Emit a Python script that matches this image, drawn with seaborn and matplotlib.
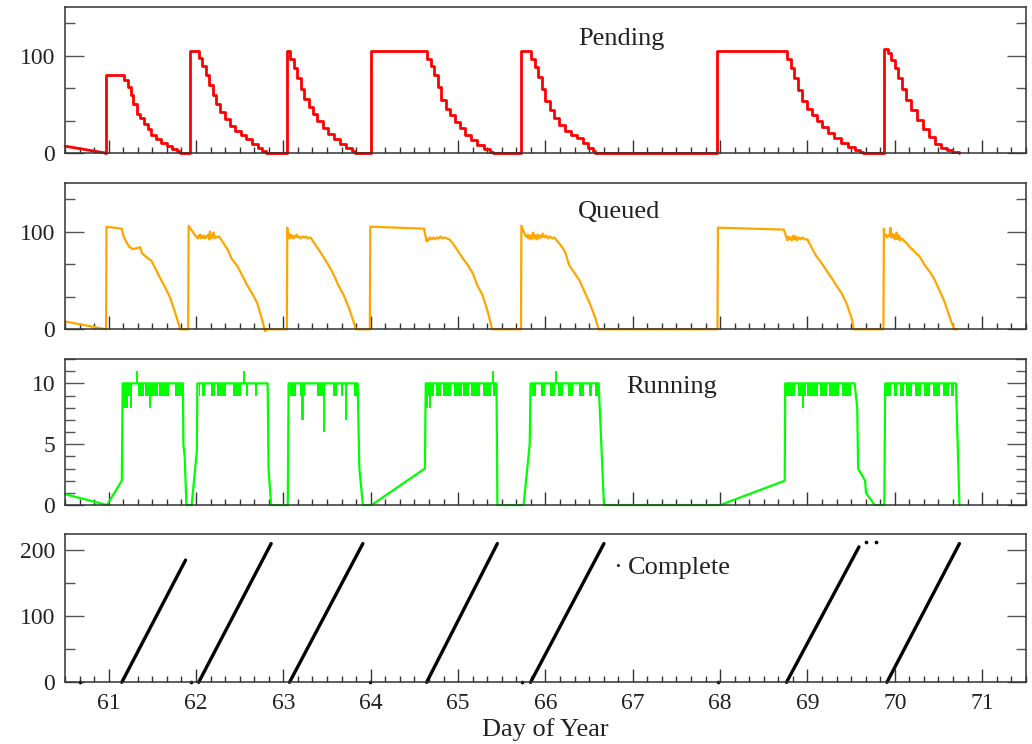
import matplotlib
matplotlib.use("Agg")
import matplotlib.pyplot as plt
from matplotlib.ticker import MultipleLocator, AutoMinorLocator
import pandas as pd
import seaborn as sns

# ---------------------------------------------------------------- data
# Pending jobs (held until the next sample -> step drawing)
pending_lead_days = [60.5, 60.96]
pending_lead_vals = [7, 0]
pending_days = [
    60.96, 60.97, 61.18, 61.22, 61.25, 61.28, 61.32, 61.36, 61.41, 61.45, 61.49, 61.54, 61.60, 61.67, 61.73, 61.78, 61.82,
    61.93, 62.03, 62.07, 62.11, 62.15, 62.19, 62.23, 62.28, 62.33, 62.39, 62.45, 62.51, 62.57, 62.64, 62.71, 62.76, 62.80,
    63.04, 63.08, 63.12, 63.16, 63.20, 63.24, 63.29, 63.34, 63.39, 63.45, 63.51, 63.58, 63.65, 63.72, 63.78, 63.82,
    64.00, 64.65, 64.69, 64.73, 64.77, 64.81, 64.86, 64.91, 64.96, 65.02, 65.08, 65.15, 65.22, 65.30, 65.36, 65.40,
    65.72, 65.84, 65.88, 65.92, 65.96, 66.00, 66.05, 66.10, 66.16, 66.22, 66.29, 66.36, 66.43, 66.49, 66.54, 66.57,
    67.97, 68.77, 68.81, 68.85, 68.89, 68.94, 68.99, 69.05, 69.11, 69.17, 69.23, 69.30, 69.38, 69.46, 69.54, 69.60, 69.64,
    69.88, 69.92, 69.96, 70.00, 70.04, 70.08, 70.13, 70.19, 70.25, 70.32, 70.39, 70.46, 70.53, 70.60, 70.66, 70.74,
]
pending_vals = [
    0, 80, 75, 68, 60, 50, 40, 36, 30, 25, 19, 14, 10, 7, 4, 2, 0,
    105, 98, 90, 80, 70, 60, 50, 42, 35, 28, 23, 18, 14, 9, 5, 2, 0,
    105, 97, 87, 77, 66, 56, 47, 40, 33, 26, 20, 14, 9, 5, 2, 0,
    105, 97, 90, 80, 68, 55, 45, 39, 32, 26, 19, 13, 8, 4, 1, 0,
    105, 97, 89, 78, 66, 54, 44, 36, 29, 23, 19, 15, 10, 5, 2, 0,
    105, 97, 88, 77, 65, 53, 45, 39, 33, 27, 21, 15, 10, 6, 3, 1, 0,
    107, 103, 96, 87, 77, 66, 55, 44, 34, 25, 16, 9, 5, 3, 1, 0,
]

# Queued jobs
queued_days = [
    60.5, 60.97, 60.975, 61.15, 61.17, 61.21, 61.24, 61.28, 61.32, 61.36, 61.38, 61.43, 61.49, 61.53, 61.58, 61.64,
    61.70, 61.75, 61.81, 61.82, 61.91,
    61.915, 61.96, 62.00, 62.02, 62.03, 62.04, 62.05, 62.06, 62.07, 62.08, 62.09, 62.10, 62.11, 62.12, 62.14, 62.15,
    62.16, 62.17, 62.18, 62.19, 62.20, 62.21, 62.22, 62.24, 62.26, 62.28, 62.30, 62.36, 62.41,
    62.47, 62.53, 62.58, 62.64, 62.70, 62.75, 62.79, 62.81, 63.04,
    63.045, 63.05, 63.06, 63.07, 63.08, 63.09, 63.10, 63.11, 63.12, 63.13, 63.15, 63.16, 63.18, 63.20, 63.22, 63.24,
    63.26, 63.28, 63.31, 63.34, 63.40, 63.46, 63.52, 63.58, 63.63, 63.69, 63.75, 63.81, 63.83, 63.99,
    63.995, 64.61, 64.64, 64.65, 64.66, 64.68, 64.70, 64.72, 64.74, 64.76, 64.78, 64.80, 64.82, 64.84, 64.87, 64.90,
    64.94, 65.00, 65.05, 65.11, 65.17, 65.22, 65.28, 65.34, 65.39, 65.72,
    65.725, 65.77, 65.79, 65.80, 65.81, 65.83, 65.84, 65.86, 65.87, 65.88, 65.90, 65.91, 65.93, 65.94, 65.96, 65.97,
    65.99, 66.01, 66.03, 66.05, 66.08, 66.10, 66.14, 66.20, 66.23, 66.27, 66.33, 66.39, 66.45, 66.51, 66.57, 66.61,
    67.97,
    67.975, 68.73, 68.76, 68.77, 68.78, 68.79, 68.81, 68.82, 68.84, 68.85, 68.87, 68.88, 68.90, 68.92, 68.94, 68.97,
    69.00, 69.04, 69.10, 69.16, 69.22, 69.28, 69.33, 69.39, 69.45, 69.51, 69.53, 69.87,
    69.875, 69.88, 69.90, 69.91, 69.93, 69.94, 69.95, 69.96, 69.97, 69.99, 70.00, 70.01, 70.02, 70.04, 70.05, 70.06,
    70.08, 70.11, 70.14, 70.17, 70.20, 70.24, 70.28, 70.34, 70.39, 70.45, 70.51, 70.57, 70.63, 70.68, 70.72,
]
queued_vals = [
    8, 0, 105, 103, 95, 88, 84, 82, 83, 84, 78, 74, 70, 63, 54, 44,
    33, 20, 3, 0, 0,
    106, 100, 95, 93, 96, 94, 97, 93, 95, 94, 96, 93, 95, 94, 97, 92,
    100, 93, 96, 94, 99, 93, 95, 94, 95, 93, 90, 82, 72,
    65, 55, 46, 37, 27, 12, -2, 0, 0,
    104, 95, 98, 93, 97, 94, 96, 93, 95, 94, 97, 94, 95, 93, 95, 94,
    95, 93, 94, 90, 82, 74, 65, 55, 45, 35, 22, 6, 0, 0,
    105, 103, 90, 93, 91, 94, 92, 94, 92, 94, 93, 95, 93, 94, 93, 92,
    88, 80, 73, 66, 57, 45, 35, 18, 0, 0,
    106, 96, 94, 97, 93, 96, 92, 99, 93, 96, 92, 97, 93, 96, 94, 98,
    94, 96, 93, 95, 93, 94, 90, 83, 78, 66, 58, 50, 38, 26, 12, 0,
    0,
    104, 102, 94, 91, 95, 92, 94, 91, 96, 92, 95, 91, 94, 92, 94, 92,
    92, 85, 75, 68, 60, 52, 45, 37, 26, 10, 0, 0,
    103, 95, 97, 94, 96, 95, 104, 94, 98, 93, 97, 92, 99, 92, 96, 91,
    93, 90, 88, 84, 82, 78, 75, 66, 60, 52, 40, 28, 12, 0, 0,
]

# Running jobs: outline of each busy period
running_days = [
    60.5, 60.98, 61.15, 61.16, 61.85, 61.855, 61.87, 61.89, 61.95, 62.01, 62.015, 62.82, 62.83, 62.86,
    63.05, 63.06, 63.85, 63.87, 63.91, 64.01, 64.62, 64.63, 65.44, 65.45, 65.75, 65.82, 65.83, 66.61, 66.67,
    68.00, 68.74, 68.745, 69.54, 69.57, 69.58, 69.66, 69.67, 69.77, 69.88, 69.89, 70.70, 70.74,
]
running_vals = [
    0.9, 0, 2, 10, 10, 5, 4, 0, 0, 4.5, 10, 10, 3, 0,
    0, 10, 10, 3, 0, 0, 3, 10, 10, 0, 0, 5, 10, 10, 0,
    0, 2, 10, 10, 8, 3, 2, 1, 0, 0, 10, 10, 0,
]
# stretches where the count flickers between 9 and 10
running_flicker_start = [
    61.16, 61.34, 61.42, 61.48, 61.58, 61.76,
    62.03, 62.07, 62.17, 62.24, 62.42, 62.57, 62.68,
    63.08, 63.19, 63.39, 63.57, 63.66, 63.81,
    64.64, 64.75, 64.83, 64.95, 65.06, 65.15, 65.28, 65.40,
    65.85, 65.95, 66.05, 66.14, 66.26, 66.38, 66.50, 66.57,
    68.74, 68.89, 69.00, 69.14, 69.25, 69.40,
    69.90, 69.99, 70.06, 70.13, 70.23, 70.33, 70.44, 70.55, 70.64,
]
running_flicker_end = [
    61.27, 61.40, 61.46, 61.56, 61.69, 61.85,
    62.04, 62.10, 62.22, 62.34, 62.51, 62.60, 62.70,
    63.15, 63.25, 63.45, 63.61, 63.68, 63.85,
    64.72, 64.80, 64.92, 65.04, 65.12, 65.25, 65.38, 65.43,
    65.89, 65.99, 66.11, 66.20, 66.32, 66.44, 66.53, 66.61,
    68.86, 68.98, 69.12, 69.22, 69.36, 69.50,
    69.96, 70.03, 70.10, 70.20, 70.30, 70.40, 70.52, 70.62, 70.68,
]
# isolated deeper dips and short peaks
running_dip_days = [61.18, 61.20, 61.21, 61.25, 61.26, 61.32, 61.47, 62.55, 63.21, 63.23, 63.47, 63.72,
                    64.65, 64.68, 65.40, 66.12, 68.95]
running_dip_vals = [8, 8, 8, 8, 8, 11, 8, 11, 7, 7, 6, 7,
                    8, 8, 11, 11, 8]

# Completed jobs: cumulative count per batch
complete_batch = [1, 1, 2, 2, 3, 3, 4, 4, 5, 5, 6, 6, 7, 7]
complete_days = [61.15, 61.88, 62.03, 62.86, 63.07, 63.91, 64.64, 65.45,
                 65.83, 66.67, 68.76, 69.59, 69.91, 70.74]
complete_counts = [0, 185, 0, 210, 0, 210, 0, 210, 0, 210, 0, 205, 0, 210]
complete_extra_days = [60.67, 61.94, 63.99, 65.73, 67.98, 69.67, 69.79]
complete_extra_counts = [0, 0, 0, 0, 0, 212, 212]

day_ticks = list(range(61, 72))

# ---------------------------------------------------------------- style
sns.set_theme(style="white")
plt.rcParams["font.family"] = ["Liberation Serif", "DejaVu Serif"]

RED, ORANGE, GREEN, INK = "#ff0000", "#ffa500", "#00ff00", "#222222"
TICK_FS, LEGEND_FS = 17, 19

fig = plt.figure(figsize=(10.32, 7.44), dpi=100)
left, width = 0.063, 0.931
boxes = [(0.7944, 0.1958), (0.5574, 0.1970), (0.3212, 0.1962), (0.0829, 0.1989)]
axes = [fig.add_axes([left, b, width, h]) for b, h in boxes]


def frame(ax, ylim, ymajor, yminor_div, show_x):
    ax.set_xlim(60.5, 71.5)
    ax.set_ylim(*ylim)
    ax.set_xticks(day_ticks)
    ax.xaxis.set_minor_locator(MultipleLocator(1 / 6))
    ax.yaxis.set_major_locator(MultipleLocator(ymajor))
    ax.yaxis.set_minor_locator(AutoMinorLocator(yminor_div))
    for s in ax.spines.values():
        s.set_color("#333333")
        s.set_linewidth(1.1)
    ax.tick_params(axis="x", which="major", direction="in", length=9.5, width=1.0,
                   color="#333333", bottom=True, top=False, labelbottom=show_x,
                   labelsize=TICK_FS, labelcolor=INK, pad=8)
    ax.tick_params(axis="x", which="minor", direction="in", length=4.3, width=1.0,
                   color="#333333", bottom=True, top=False)
    ax.tick_params(axis="y", which="major", direction="in", length=14, width=1.0,
                   color="#555555", left=True, right=True, labelsize=TICK_FS,
                   labelcolor=INK, pad=7)
    ax.tick_params(axis="y", which="minor", direction="in", length=7, width=1.0,
                   color="#555555", left=True, right=True)
    ax.set_xlabel("")
    ax.set_ylabel("")
    ax.set_facecolor("white")


# ---- Pending
ax = axes[0]
sns.lineplot(x=pending_lead_days, y=pending_lead_vals, color=RED, lw=2.0,
             estimator=None, sort=False, legend=False, ax=ax, clip_on=False)
sns.lineplot(x=pending_days, y=pending_vals, color=RED, lw=2.0, drawstyle="steps-post",
             estimator=None, sort=False, legend=False, ax=ax, clip_on=False)
frame(ax, (0, 150), 100, 3, False)
ax.text(0.534, 0.741, "Pending", transform=ax.transAxes, fontsize=LEGEND_FS,
        color=INK, va="baseline", ha="left")

# ---- Queued
ax = axes[1]
sns.lineplot(x=queued_days, y=queued_vals, color=ORANGE, lw=1.6,
             estimator=None, sort=False, legend=False, ax=ax, clip_on=False)
frame(ax, (0, 150), 100, 3, False)
ax.text(0.534, 0.761, "Queued", transform=ax.transAxes, fontsize=LEGEND_FS,
        color=INK, va="baseline", ha="left")

# ---- Running
ax = axes[2]
for s, e in zip(running_flicker_start, running_flicker_end):
    ax.fill_between([s, e], 9, 10, color=GREEN, lw=0)
ax.vlines(running_dip_days, running_dip_vals, 10, color=GREEN, lw=1.4)
sns.lineplot(x=running_days, y=running_vals, color=GREEN, lw=1.6,
             estimator=None, sort=False, legend=False, ax=ax, clip_on=False)
frame(ax, (0, 12), 5, 5, False)
ax.text(0.584, 0.769, "Running", transform=ax.transAxes, fontsize=LEGEND_FS,
        color=INK, va="baseline", ha="left")

# ---- Complete
ax = axes[3]
comp = pd.DataFrame({"day": complete_days, "count": complete_counts, "batch": complete_batch})
sns.lineplot(data=comp, x="day", y="count", units="batch", estimator=None, sort=False,
             color="black", lw=2.4, legend=False, ax=ax, clip_on=False)
sns.scatterplot(x=complete_extra_days, y=complete_extra_counts, color="black", s=7,
                linewidth=0, legend=False, ax=ax, clip_on=False)
frame(ax, (0, 224), 100, 2, True)
ax.text(0.5746, 0.732, "·", transform=ax.transAxes, fontsize=LEGEND_FS,
        color=INK, va="baseline", ha="center")
ax.text(0.5855, 0.732, "Complete", transform=ax.transAxes, fontsize=LEGEND_FS,
        color=INK, va="baseline", ha="left")
ax.set_xlabel("Day of Year", fontsize=LEGEND_FS, color=INK, labelpad=2.5)

fig.savefig("out.png", dpi=100, facecolor="white")
